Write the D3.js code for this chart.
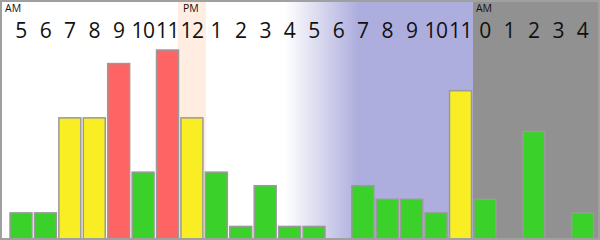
<!DOCTYPE html>
<html>
<head>
<meta charset="utf-8">
<script src="https://cdn.jsdelivr.net/npm/d3@7"></script>
<style>
  body { margin: 0; background: #fff; }
  svg { display: block; }
</style>
</head>
<body>
<div id="chart"></div>
<script>
// hours from 5 AM to 4 AM next day
const hours = ["5","6","7","8","9","10","11","12","1","2","3","4","5","6","7","8","9","10","11","0","1","2","3","4"]
const counts = [2,2,9,9,13,5,14,9,5,1,4,1,1,0,4,3,3,2,11,3,0,8,0,2]
const level = ["low","low","mid","mid","high","low","high","mid","low","low","low","low","low","low","low","low","low","low","mid","low","low","low","low","low"]
const markers = [{i: 0, text: "AM"}, {i: 7, text: "PM"}, {i: 19, text: "AM"}]

const width = 600
const height = 240

const colors = {low: "#3ad12a", mid: "#f9ee24", high: "#ff6464"}

const svg = d3.select("#chart")
    .append("svg")
    .attr("width", width)
    .attr("height", height)

const idx = d3.range(hours.length)

const x = d3.scaleBand()
    .domain(idx)
    .range([8.8, 594.8])
    .paddingInner(0.1)
    .paddingOuter(0.05)

const y = d3.scaleLinear()
    .domain([0, 14])
    .range([height, 50])

const layer_bg = svg.append("g")
const layer_bars = svg.append("g")
const layer_text = svg.append("g")

// evening gradient
const grad = svg.append("defs").append("linearGradient")
    .attr("id", "eve")
    .attr("gradientUnits", "userSpaceOnUse")
    .attr("x1", 285).attr("x2", 358)
    .attr("y1", 0).attr("y2", 0)
grad.append("stop").attr("offset", 0).attr("stop-color", "#ffffff")
grad.append("stop").attr("offset", 1).attr("stop-color", "#aeaede")

const nightStart = x(19) - 1

layer_bg.append("rect")
    .attr("x", 0).attr("y", 0)
    .attr("width", width).attr("height", height)
    .attr("fill", "#fff")

layer_bg.append("rect")
    .attr("x", 285).attr("y", 0)
    .attr("width", nightStart - 285).attr("height", height)
    .attr("fill", "url(#eve)")

layer_bg.append("rect")
    .attr("x", nightStart).attr("y", 0)
    .attr("width", width - nightStart).attr("height", height)
    .attr("fill", "#919191")

// noon column
layer_bg.append("rect")
    .attr("x", x(7) - 3).attr("y", 0)
    .attr("width", x.bandwidth() + 6).attr("height", height)
    .attr("fill", "#ffede1")

layer_bars.selectAll("rect")
    .data(idx.filter(i => counts[i] > 0))
    .enter()
    .append("rect")
    .attr("x", i => x(i))
    .attr("y", i => y(counts[i]))
    .attr("width", x.bandwidth())
    .attr("height", i => y(0) - y(counts[i]) + 2)
    .attr("fill", i => colors[level[i]])
    .attr("stroke", "#9a9a9a")
    .attr("stroke-width", 1.5)

layer_text.selectAll("text.hour")
    .data(idx)
    .enter()
    .append("text")
    .attr("class", "hour")
    .attr("x", i => x(i) + x.bandwidth() / 2)
    .attr("y", 37.5)
    .attr("text-anchor", "middle")
    .style("font-family", "'Open Sans', sans-serif")
    .style("font-size", "21px")
    .style("letter-spacing", "-0.5px")
    .style("fill", "#111")
    .text(i => hours[i])

// AM / PM above the hours; the first one hugs the left edge
layer_text.selectAll("text.mark")
    .data(markers)
    .enter()
    .append("text")
    .attr("class", "mark")
    .attr("x", d => d.i === 0 ? 5 : x(d.i) + x.bandwidth() / 2 - 9)
    .attr("y", 12)
    .style("font-family", "'Open Sans', sans-serif")
    .style("font-size", "10.5px")
    .style("fill", "#111")
    .text(d => d.text)

// frame
svg.append("rect")
    .attr("x", 1).attr("y", 1)
    .attr("width", width - 2).attr("height", height - 2)
    .attr("fill", "none")
    .attr("stroke", "#a0a0a0")
    .attr("stroke-width", 2)
</script>
</body>
</html>
